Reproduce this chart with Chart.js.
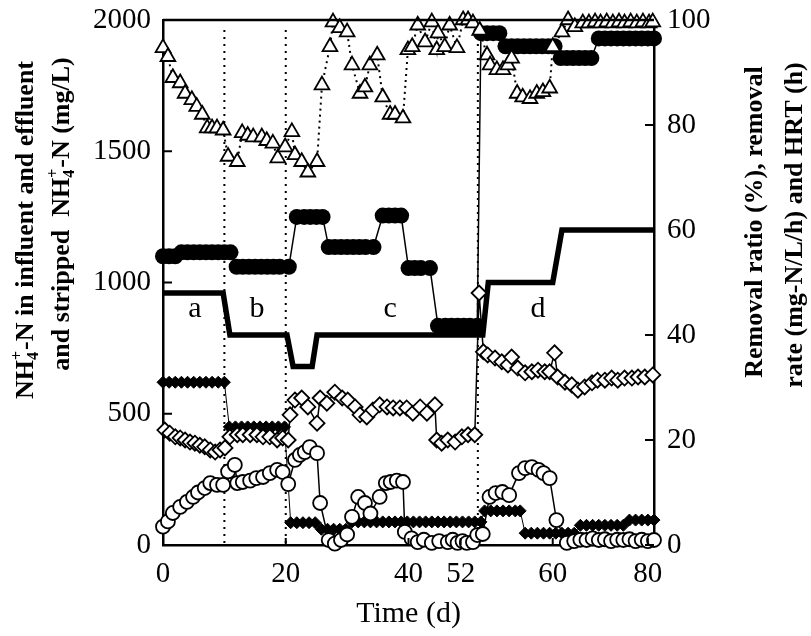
<!DOCTYPE html>
<html>
<head>
<meta charset="utf-8">
<script src="https://cdn.jsdelivr.net/npm/chart.js@4.4.0/dist/chart.umd.min.js"></script>
<style>
  body { margin: 0; background: #fff; }
  canvas { display: block; }
</style>
</head>
<body>
<canvas id="chart" width="811" height="636"></canvas>
<script>
const SERIF = "'Liberation Serif', 'DejaVu Serif', serif";

// time axis: where the labels sit and what they read
const tickAt = [0, 20, 40, 48.5, 63.5, 79];
const tickText = ['0', '20', '40', '52', '60', '80'];

// phase boundaries and phase names
const phaseEdges = [10, 20, 51.3];
const phaseName = ['a', 'b', 'c', 'd'];
const phaseAt = [5.2, 15.3, 37, 61.1];

// removal ratio (%)
const ratioDay = [0, 0.8, 1.6, 2.8, 3.6, 4.7, 5.5, 6.4, 7.2, 8.0, 8.8, 9.8, 10.6, 12.1, 12.9, 13.8, 14.7, 16.1, 16.9, 17.9,
  18.7, 19.9, 21.0, 21.5, 22.6, 23.6, 25.1, 25.9, 27.2, 27.7, 28.8, 30.0, 30.8, 32.1, 32.9, 33.7, 34.9, 35.8, 37.0, 37.8,
  39.1, 39.9, 40.6, 41.5, 42.7, 43.8, 44.6, 44.8, 45.9, 46.7, 47.9, 48.9, 49.7, 50.5, 51.6, 52.8, 53.3, 54.4, 55.4, 56.2,
  56.8, 57.7, 58.6, 59.8, 60.9, 61.9, 63.0, 63.5, 65.0, 66.0, 67.1, 68.4, 69.4, 70.4, 71.3, 72.3, 73.3, 74.3, 75.2, 76.2,
  77.2, 78.2, 79.2, 79.8];
const ratioPct = [94.7, 93, 89, 88, 86, 84.8, 83.5, 82, 79.4, 79.4, 79.4, 79, 74, 73, 78.5, 78, 77.7, 77.7, 77, 76.5,
  73.7, 75.8, 78.7, 74.3, 73, 71, 73, 87.6, 94.9, 99.6, 98.5, 97.7, 91.4, 86, 87.2, 91.4, 93.3, 85.3, 82, 82,
  81.3, 94.3, 94.9, 99, 95.8, 99.6, 94.3, 97.5, 94.9, 99, 94.7, 100, 100, 99.4, 98, 93.3, 91.4, 90.5, 90.5, 91.4,
  92.7, 86, 85.3, 85, 86, 86.3, 87, 94.9, 97.7, 100, 98.7, 99.4, 99.4, 99.6, 99.4, 99.6, 99.4, 99.6, 99.4, 99.6,
  99.4, 99.6, 99.4, 99.6];

// removal rate (mg-N/L/h)
const rateDay = [0.3, 1.1, 2.0, 2.8, 3.6, 4.4, 5.2, 6.0, 6.8, 7.7, 8.5, 9.3, 10.1, 10.9, 12.1, 13.0, 14.2, 15.3, 16.3, 17.4,
  18.6, 19.5, 20.4, 20.7, 21.5, 22.6, 23.6, 25.1, 25.6, 26.7, 28.0, 29.2, 30.1, 31.3, 32.1, 33.2, 34.2, 35.3, 36.5, 37.5,
  38.6, 39.7, 40.7, 41.9, 43.0, 44.3, 44.6, 45.4, 46.4, 47.6, 48.7, 49.7, 50.8, 51.5, 52.2, 52.9, 54.1, 55.2, 56.2, 56.8,
  57.8, 59.0, 60.1, 61.1, 62.2, 63.0, 63.8, 64.3, 65.5, 66.6, 67.6, 68.7, 69.9, 70.8, 72.0, 73.1, 74.1, 75.2, 76.4, 77.4,
  78.5, 79.8];
const rateVal = [21.9, 21.3, 20.6, 20.4, 20, 19.6, 19.4, 19, 18.7, 18.1, 17.7, 18.1, 18.5, 20.6, 21, 21, 21, 21, 20.6, 20.6,
  20, 20.4, 20, 24.8, 27.6, 28, 26.3, 23.2, 28, 27, 29.1, 28, 27.6, 26.3, 24.8, 24.4, 25.7, 26.7, 26.3, 26.1,
  26.1, 26.1, 25.1, 26.3, 25.1, 26.7, 20, 19.4, 20, 19.6, 20.6, 21, 21, 48, 36.8, 36.2, 35.6, 34.9, 34.3, 35.8,
  33.7, 32.8, 33, 33.3, 33, 33, 36.6, 32, 31, 30.5, 29.5, 30.1, 30.9, 31.4, 31.4, 31.8, 31.4, 31.8, 31.8, 32,
  32, 32.4];

// HRT (h)
const hrtDay = [0, 9.8, 10.9, 20.2, 21.2, 24.3, 25.1, 52.1, 53.0, 63.5, 65.0, 80];
const hrtHours = [48, 48, 40, 40, 34, 34, 40, 40, 50, 50, 60, 60];

// influent NH4+-N (mg/L)
const inflDay = [0, 1, 2, 3, 4, 5, 6, 7, 8, 9, 10, 11,
  12, 13, 14, 15, 16, 17, 18, 19, 20.5,
  21.8, 23, 24, 25, 26,
  27, 28, 29, 30, 31, 32, 33, 34.3,
  35.8, 36.8, 37.8, 38.8,
  40, 41, 42, 43.5,
  44.8, 46, 47, 48, 49, 50, 51.2,
  51.8, 52.8, 53.8, 54.8,
  55.8, 56.8, 57.8, 58.8, 59.8, 60.8, 61.8, 62.8, 63.8,
  64.8, 65.8, 66.8, 67.8, 68.8, 69.8,
  71, 72, 73, 74, 75, 76, 77, 78, 79, 80];
const inflN = [1100, 1100, 1100, 1115, 1115, 1115, 1115, 1115, 1115, 1115, 1115, 1115,
  1060, 1060, 1060, 1060, 1060, 1060, 1060, 1060, 1060,
  1250, 1250, 1250, 1250, 1250,
  1135, 1135, 1135, 1135, 1135, 1135, 1135, 1135,
  1255, 1255, 1255, 1255,
  1055, 1055, 1055, 1055,
  835, 835, 835, 835, 835, 835, 835,
  1950, 1950, 1950, 1950,
  1900, 1900, 1900, 1900, 1900, 1900, 1900, 1900, 1900,
  1855, 1855, 1855, 1855, 1855, 1855,
  1930, 1930, 1930, 1930, 1930, 1930, 1930, 1930, 1930, 1930];

// effluent NH4+-N (mg/L)
const effDay = [0, 0.8, 1.6, 2.8, 3.9, 4.9, 5.7, 6.8, 7.7, 8.8, 9.8, 10.6, 11.7, 12.1, 13.0, 14.2, 15.2, 16.3, 17.4, 18.6,
  19.5, 20.4, 21.5, 22.3, 23.1, 23.9, 25.1, 25.6, 27.0, 28.0, 29.0, 30.0, 30.8, 31.8, 32.9, 33.8, 35.3, 36.3, 37.1, 38.1,
  39.1, 39.4, 40.5, 41.5, 42.5, 43.8, 45.0, 46.4, 47.2, 48.0, 48.8, 49.5, 50.5, 51.2, 52.1, 53.2, 54.2, 55.3, 56.4, 58.0,
  59.0, 60.1, 61.2, 62.0, 63.0, 64.1, 65.8, 67.0, 68.0, 69.0, 70.0, 71.0, 72.0, 73.0, 74.0, 75.0, 76.0, 77.0, 78.0, 79.0,
  80.0];
const effN = [70, 90, 122, 145, 164, 183, 200, 217, 236, 229, 229, 280, 305, 236, 240, 245, 255, 259, 274, 286,
  278, 232, 324, 343, 354, 373, 350, 160, 19, 5, 19, 40, 107, 183, 160, 120, 183, 236, 240, 245,
  240, 50, 25, 11, 20, 8, 15, 11, 20, 8, 15, 8, 11, 38, 42, 183, 198, 202, 190, 274,
  293, 297, 286, 274, 255, 95, 8, 15, 20, 19, 25, 19, 22, 15, 20, 19, 22, 15, 20, 15,
  19];

// stripped NH4+-N (mg/L)
const stripDay = [0, 1, 2, 3, 4, 5, 6, 7, 8, 9, 10,
  10.8, 11.8, 12.8, 13.8, 14.8, 15.8, 16.8, 17.8, 18.8, 19.8,
  20.8, 21.8, 22.8, 23.8, 24.8,
  25.8, 26.8, 27.8, 28.8, 29.8,
  30.8, 31.8, 32.8, 33.8, 34.8, 35.8, 36.8, 37.8, 38.8, 39.8, 40.8, 41.8, 42.8, 43.8, 44.8, 45.8, 46.8, 47.8, 48.8, 49.8, 50.8, 51.8,
  52.4, 53.4, 54.4, 55.4, 56.4, 57.4, 58.2,
  59, 60, 61, 62, 63, 64, 65, 66, 67,
  68, 69, 70, 71, 72, 73, 74, 75,
  76, 77, 78, 79, 80];
const stripN = [620, 620, 620, 620, 620, 620, 620, 620, 620, 620, 620,
  450, 450, 450, 450, 450, 450, 450, 450, 450, 450,
  85, 85, 85, 85, 85,
  60, 60, 60, 60, 60,
  88, 88, 88, 88, 88, 88, 88, 88, 88, 88, 88, 88, 88, 88, 88, 88, 88, 88, 88, 88, 88, 88,
  130, 130, 130, 130, 130, 130, 130,
  45, 45, 45, 45, 45, 45, 45, 45, 45,
  75, 75, 75, 75, 75, 75, 75, 75,
  95, 95, 95, 95, 95];

const pts = (xs, ys) => xs.map((x, i) => ({ x, y: ys[i] }));

// NH4+ with the 4 below and the + above, rotated to read upwards
function drawRotatedTitle(ctx, parts, cx, cy, size) {
  const big = `bold ${size}px ${SERIF}`;
  const small = `bold ${Math.round(size * 0.62)}px ${SERIF}`;
  let total = 0;
  const widths = parts.map(p => {
    let w;
    if (typeof p === 'string') {
      ctx.font = big;
      w = ctx.measureText(p).width;
    } else {
      ctx.font = small;
      w = Math.max(ctx.measureText(p.sub).width, ctx.measureText(p.sup).width) + 1;
    }
    total += w;
    return w;
  });
  ctx.save();
  ctx.translate(cx, cy);
  ctx.rotate(-Math.PI / 2);
  ctx.fillStyle = '#000';
  ctx.textAlign = 'left';
  ctx.textBaseline = 'alphabetic';
  const base = size * 0.33;
  let px = -total / 2;
  parts.forEach((p, i) => {
    if (typeof p === 'string') {
      ctx.font = big;
      ctx.fillText(p, px, base);
    } else {
      ctx.font = small;
      ctx.fillText(p.sub, px, base + size * 0.22);
      ctx.fillText(p.sup, px, base - size * 0.42);
    }
    px += widths[i];
  });
  ctx.restore();
}

const frame = {
  id: 'frame',
  beforeDatasetsDraw(chart) {
    const { ctx, chartArea: a, scales: { x } } = chart;
    ctx.save();
    ctx.strokeStyle = '#000';
    ctx.lineWidth = 2;
    ctx.setLineDash([2, 5]);
    phaseEdges.forEach(d => {
      const px = x.getPixelForValue(d);
      ctx.beginPath();
      ctx.moveTo(px, a.top + 10);
      ctx.lineTo(px, a.bottom);
      ctx.stroke();
    });
    ctx.restore();
  },
  afterDraw(chart) {
    const { ctx, chartArea: a, scales: { x, y, y2 } } = chart;
    ctx.save();
    ctx.strokeStyle = '#000';
    ctx.lineWidth = 2.5;
    ctx.beginPath();
    ctx.moveTo(a.left, a.top);
    ctx.lineTo(a.right, a.top);
    ctx.stroke();

    // inward tick marks
    ctx.lineWidth = 2;
    ctx.beginPath();
    y.ticks.forEach(t => {
      const py = y.getPixelForValue(t.value);
      ctx.moveTo(a.left, py);
      ctx.lineTo(a.left + 9, py);
    });
    y2.ticks.forEach(t => {
      const py = y2.getPixelForValue(t.value);
      ctx.moveTo(a.right - 9, py);
      ctx.lineTo(a.right, py);
    });
    x.ticks.forEach(t => {
      const px = x.getPixelForValue(t.value);
      ctx.moveTo(px, a.bottom);
      ctx.lineTo(px, a.bottom - 7);
    });
    ctx.stroke();

    // phase names
    ctx.fillStyle = '#000';
    ctx.font = `30px ${SERIF}`;
    ctx.textAlign = 'center';
    ctx.textBaseline = 'middle';
    phaseName.forEach((n, i) => {
      ctx.fillText(n, x.getPixelForValue(phaseAt[i]), y2.getPixelForValue(45));
    });
    ctx.restore();

    drawRotatedTitle(ctx, ['NH', { sub: '4', sup: '+' }, '-N in influent and effluent'], 24, 230, 26);
    drawRotatedTitle(ctx, ['and stripped  NH', { sub: '4', sup: '+' }, '-N (mg/L)'], 60, 214, 26);
    drawRotatedTitle(ctx, ['Removal ratio (%), removal'], 753, 222, 26);
    drawRotatedTitle(ctx, ['rate (mg-N/L/h) and HRT (h)'], 793, 225, 26);
  }
};

const tickFont = { family: SERIF, size: 29 };
const plainNumber = v => String(v);

// fixed axis boxes so the plot area spans 163..654 x 20..545
function fixVertical(width) {
  return scale => {
    scale.width = width;
    scale.paddingTop = 0;
    scale.paddingBottom = 0;
  };
}

new Chart(document.getElementById('chart'), {
  type: 'scatter',
  data: {
    datasets: [
      {
        label: 'Removal ratio',
        data: pts(ratioDay, ratioPct),
        yAxisID: 'y2',
        showLine: true,
        borderColor: '#000',
        borderWidth: 2,
        borderDash: [2, 4],
        pointStyle: 'triangle',
        pointRadius: 8.5,
        pointBackgroundColor: '#fff',
        pointBorderColor: '#000',
        pointBorderWidth: 1.8,
        clip: false,
        order: 0
      },
      {
        label: 'Removal rate',
        data: pts(rateDay, rateVal),
        yAxisID: 'y2',
        showLine: true,
        borderColor: '#000',
        borderWidth: 1.5,
        pointStyle: 'rectRot',
        pointRadius: 7.5,
        pointBackgroundColor: '#fff',
        pointBorderColor: '#000',
        pointBorderWidth: 1.8,
        clip: false,
        order: 1
      },
      {
        label: 'Effluent',
        data: pts(effDay, effN),
        yAxisID: 'y',
        showLine: true,
        borderColor: '#000',
        borderWidth: 1.5,
        pointStyle: 'circle',
        pointRadius: 7,
        pointBackgroundColor: '#fff',
        pointBorderColor: '#000',
        pointBorderWidth: 1.8,
        clip: false,
        order: 2
      },
      {
        label: 'Stripped',
        data: pts(stripDay, stripN),
        yAxisID: 'y',
        showLine: true,
        borderColor: '#000',
        borderWidth: 1,
        pointStyle: 'rectRot',
        pointRadius: 6,
        pointBackgroundColor: '#000',
        pointBorderColor: '#000',
        pointBorderWidth: 1,
        clip: false,
        order: 3
      },
      {
        label: 'Influent',
        data: pts(inflDay, inflN),
        yAxisID: 'y',
        showLine: true,
        borderColor: '#000',
        borderWidth: 1.5,
        pointStyle: 'circle',
        pointRadius: 8,
        pointBackgroundColor: '#000',
        pointBorderColor: '#000',
        pointBorderWidth: 0,
        clip: false,
        order: 4
      },
      {
        label: 'HRT',
        data: pts(hrtDay, hrtHours),
        yAxisID: 'y2',
        showLine: true,
        borderColor: '#000',
        borderWidth: 5.5,
        pointRadius: 0,
        clip: false,
        order: 5
      }
    ]
  },
  options: {
    responsive: false,
    animation: false,
    layout: { padding: { top: 20, left: 0, right: 0, bottom: 0 } },
    plugins: { legend: { display: false }, tooltip: { enabled: false } },
    scales: {
      x: {
        type: 'linear',
        position: 'bottom',
        min: 0,
        max: 80,
        afterBuildTicks: scale => { scale.ticks = tickAt.map(value => ({ value })); },
        afterFit: scale => {
          scale.height = 91;
          scale.paddingLeft = 0;
          scale.paddingRight = 0;
        },
        grid: { display: false, drawTicks: false },
        border: { display: true, color: '#000', width: 2.5 },
        ticks: {
          autoSkip: false,
          maxRotation: 0,
          padding: 12,
          color: '#000',
          font: tickFont,
          callback: (v, i) => tickText[i]
        },
        title: {
          display: true,
          text: 'Time (d)',
          color: '#000',
          font: { family: SERIF, size: 30 },
          padding: { top: 0, bottom: 4 }
        }
      },
      y: {
        position: 'left',
        min: 0,
        max: 2000,
        afterFit: fixVertical(163),
        grid: { display: false, drawTicks: false },
        border: { display: true, color: '#000', width: 2.5 },
        ticks: { stepSize: 500, padding: 12, color: '#000', font: tickFont, callback: plainNumber }
      },
      y2: {
        position: 'right',
        min: 0,
        max: 100,
        afterFit: fixVertical(157),
        grid: { display: false, drawTicks: false },
        border: { display: true, color: '#000', width: 2.5 },
        ticks: { stepSize: 20, padding: 13, color: '#000', font: tickFont, callback: plainNumber }
      }
    }
  },
  plugins: [frame]
});
</script>
</body>
</html>
